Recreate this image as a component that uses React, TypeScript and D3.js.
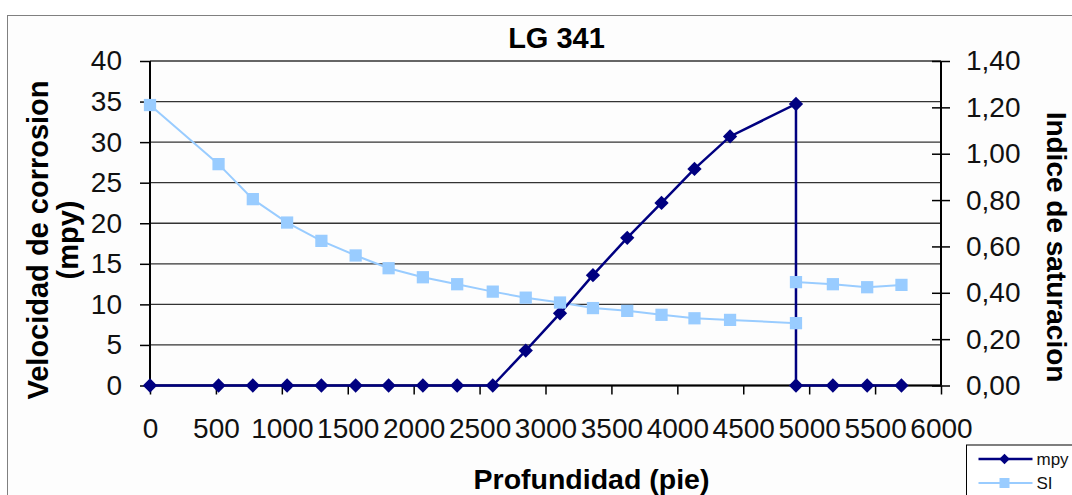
import React, { useEffect, useRef } from 'react';
import * as d3 from 'd3';

// Profundidad (pie) - shared by both series (4900 appears twice: the drop)
const depth = [0, 520, 780, 1040, 1300, 1560, 1810, 2070, 2330, 2600, 2850, 3110, 3360, 3620, 3880, 4130, 4400, 4900, 4900, 5180, 5440, 5700];
const mpy = [0, 0, 0, 0, 0, 0, 0, 0, 0, 0, 4.3, 8.9, 13.6, 18.2, 22.5, 26.7, 30.7, 34.7, 0, 0, 0, 0];
const si = [1.21, 0.955, 0.804, 0.703, 0.624, 0.561, 0.506, 0.467, 0.437, 0.405, 0.379, 0.358, 0.334, 0.322, 0.305, 0.29, 0.283, 0.269, 0.446, 0.437, 0.424, 0.434];

const xTicks = [0, 500, 1000, 1500, 2000, 2500, 3000, 3500, 4000, 4500, 5000, 5500, 6000];
const leftTicks = [0, 5, 10, 15, 20, 25, 30, 35, 40];
const rightTicks = [0, 0.2, 0.4, 0.6, 0.8, 1.0, 1.2, 1.4];

const seriesNames = ['mpy', 'SI'];
const colors = ['#000080', '#99ccff'];

const W = 1072;
const H = 495;
const FONT = 'Liberation Sans, Arial, sans-serif';

const Chart = () => {
  const ref = useRef<SVGSVGElement>(null);

  useEffect(() => {
    if (!ref.current) return;
    const svg = d3.select(ref.current);
    svg.selectAll('*').remove();

    const plot = { left: 150, right: 941, top: 61, bottom: 385.5 };

    const x = d3.scaleLinear().domain([0, 6000]).range([plot.left, plot.right]);
    const yL = d3.scaleLinear().domain([0, 40]).range([plot.bottom, plot.top]);
    const yR = d3.scaleLinear().domain([0, 1.4]).range([plot.bottom, plot.top]);

    // chart area background + frame
    svg.append('rect').attr('width', W).attr('height', H).attr('fill', '#ffffff');
    svg
      .append('rect')
      .attr('x', 7.5)
      .attr('y', 15.5)
      .attr('width', W + 20)
      .attr('height', H + 20)
      .attr('fill', '#fdfdfd')
      .attr('stroke', '#808080')
      .attr('stroke-width', 1);

    // gridlines
    svg
      .append('g')
      .selectAll('line')
      .data(leftTicks)
      .join('line')
      .attr('x1', plot.left)
      .attr('x2', plot.right)
      .attr('y1', (d) => yL(d))
      .attr('y2', (d) => yL(d))
      .attr('stroke', '#333')
      .attr('stroke-width', 1.3);

    // left axis
    const gL = svg
      .append('g')
      .attr('transform', `translate(${plot.left},0)`)
      .call(d3.axisLeft(yL).tickValues(leftTicks).tickSize(10).tickPadding(18).tickFormat(d3.format('d')));
    // right axis
    const gR = svg
      .append('g')
      .attr('transform', `translate(${plot.right},0)`)
      .call(
        d3
          .axisRight(yR)
          .tickValues(rightTicks)
          .tickSize(9)
          .tickPadding(16)
          .tickFormat((d) => d3.format('.2f')(d as number).replace('.', ','))
      );
    gR.selectAll('.tick line').attr('x1', -9);
    // bottom axis
    const gB = svg
      .append('g')
      .attr('transform', `translate(0,${plot.bottom})`)
      .call(d3.axisBottom(x).tickValues(xTicks).tickSize(9).tickPadding(24).tickFormat(d3.format('d')));

    [gL, gR, gB].forEach((g) => {
      g.select('.domain').attr('stroke', '#000').attr('stroke-width', 2);
      g.selectAll('.tick line').attr('stroke', '#000').attr('stroke-width', 1.5);
      g.selectAll('.tick text').attr('font-family', FONT).attr('font-size', 28).attr('fill', '#111');
    });
    gL.select('.domain').attr('d', `M0,${plot.top}V${plot.bottom}`);
    gR.select('.domain').attr('d', `M0,${plot.top}V${plot.bottom}`);
    gB.select('.domain').attr('d', `M${plot.left},0H${plot.right}`);

    // series
    const mpyData = depth.map((d, i) => [d, mpy[i]] as [number, number]);
    const siData = depth.map((d, i) => [d, si[i]] as [number, number]);

    const lineL = d3.line<[number, number]>().x((d) => x(d[0])).y((d) => yL(d[1]));
    const lineR = d3.line<[number, number]>().x((d) => x(d[0])).y((d) => yR(d[1]));

    svg
      .append('path')
      .datum(siData)
      .attr('fill', 'none')
      .attr('stroke', colors[1])
      .attr('stroke-width', 2)
      .attr('d', lineR);
    svg
      .append('path')
      .datum(mpyData)
      .attr('fill', 'none')
      .attr('stroke', colors[0])
      .attr('stroke-width', 2.5)
      .attr('d', lineL);

    const diamond = d3.symbol(d3.symbolDiamond2, 130);
    const square = d3.symbol(d3.symbolSquare, 150);

    svg
      .append('g')
      .selectAll('path')
      .data(mpyData)
      .join('path')
      .attr('transform', (d) => `translate(${x(d[0])},${yL(d[1])})`)
      .attr('d', diamond)
      .attr('fill', colors[0]);
    svg
      .append('g')
      .selectAll('path')
      .data(siData)
      .join('path')
      .attr('transform', (d) => `translate(${x(d[0])},${yR(d[1])})`)
      .attr('d', square)
      .attr('fill', colors[1]);

    // titles
    svg
      .append('text')
      .attr('x', (plot.left + plot.right) / 2 + 11)
      .attr('y', 48)
      .attr('text-anchor', 'middle')
      .attr('font-family', FONT)
      .attr('font-weight', 'bold')
      .attr('font-size', 29)
      .text('LG 341');

    svg
      .append('text')
      .attr('x', (plot.left + plot.right) / 2 + 46)
      .attr('y', 489)
      .attr('text-anchor', 'middle')
      .attr('font-family', FONT)
      .attr('font-weight', 'bold')
      .attr('font-size', 28.5)
      .text('Profundidad (pie)');

    const yTitle = svg
      .append('text')
      .attr('transform', 'translate(0,240) rotate(-90)')
      .attr('text-anchor', 'middle')
      .attr('font-family', FONT)
      .attr('font-weight', 'bold')
      .attr('font-size', 29);
    yTitle.append('tspan').attr('x', 0).attr('y', 48).text('Velocidad de corrosion');
    yTitle.append('tspan').attr('x', 0).attr('y', 78).text('(mpy)');

    svg
      .append('text')
      .attr('transform', 'translate(1047,247) rotate(90)')
      .attr('text-anchor', 'middle')
      .attr('font-family', FONT)
      .attr('font-weight', 'bold')
      .attr('font-size', 28)
      .text('Indice de saturacion');

    // legend
    const lg = svg.append('g').attr('transform', 'translate(966.5,445)');
    lg.append('rect')
      .attr('width', 130)
      .attr('height', 80)
      .attr('fill', '#ffffff')
      .attr('stroke', '#000')
      .attr('stroke-width', 1);
    seriesNames.forEach((name, i) => {
      const row = lg.append('g').attr('transform', `translate(0,${14 + i * 24})`);
      row
        .append('line')
        .attr('x1', 12)
        .attr('x2', 66)
        .attr('stroke', colors[i])
        .attr('stroke-width', i === 0 ? 2.5 : 2);
      row
        .append('path')
        .attr('transform', 'translate(38,0)')
        .attr('d', i === 0 ? d3.symbol(d3.symbolDiamond2, 70)() : d3.symbol(d3.symbolSquare, 100)())
        .attr('fill', colors[i]);
      row
        .append('text')
        .attr('x', 70)
        .attr('y', 6)
        .attr('font-family', FONT)
        .attr('font-size', 17)
        .attr('fill', '#111')
        .text(name);
    });
  }, []);

  return <svg ref={ref} width={W} height={H} style={{ position: 'absolute', left: 0, top: 0 }} />;
};

export default function App() {
  return <Chart />;
}
